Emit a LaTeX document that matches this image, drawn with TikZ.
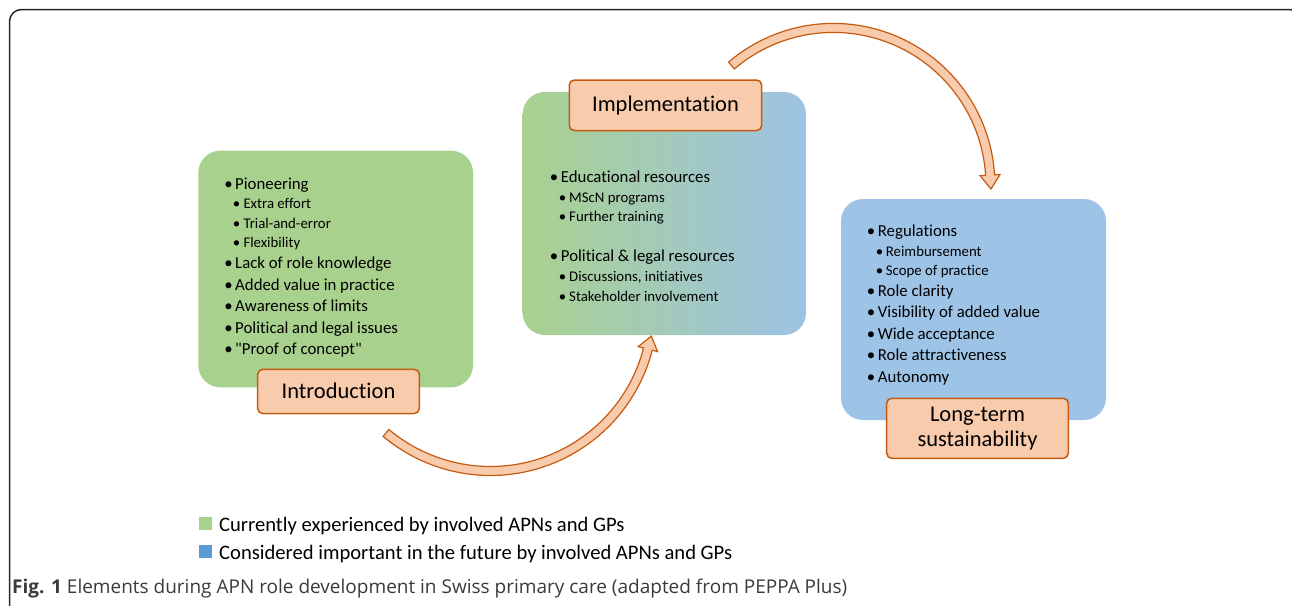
\documentclass[tikz,border=0pt]{standalone}
\usepackage{fontspec}
\setmainfont{Carlito}[Ligatures={TeXOff,NoCommon}]
\newfontfamily\capfont{Open Sans}
\usetikzlibrary{calc}
\definecolor{grn}{HTML}{A9D18E}
\definecolor{blu}{HTML}{9DC3E6}
\definecolor{org}{HTML}{F8CBAD}
\definecolor{orgd}{HTML}{C55A11}
\definecolor{legg}{HTML}{A9D18E}
\definecolor{legb}{HTML}{5B9BD5}
\definecolor{captxt}{HTML}{3A3A3A}
\newcommand\MItem[5]{\node[itm,anchor=base] (#1b) at (#2,#4) {•}; \node[itm] (#1) at (#3,#4) {#5};}
\newcommand\SItem[5]{\node[sitm,anchor=base] (#1b) at (#2,#4) {•}; \node[sitm] (#1) at (#3,#4) {#5};}
\begin{document}
\begin{tikzpicture}[x=1pt,y=-1pt,
  itm/.style={anchor=base west,inner sep=0pt,font=\fontsize{16.8}{19}\selectfont},
  sitm/.style={anchor=base west,inner sep=0pt,font=\fontsize{14.8}{17}\selectfont},
  lab/.style={draw=orgd,fill=org,line width=1.5pt,rounded corners=5pt},
  labtxt/.style={inner sep=0pt,anchor=base,font=\fontsize{22.5}{25}\selectfont,align=center},
  blockarrow/.style={draw=orgd,fill=org,line width=1.2pt,line join=miter},
  legtxt/.style={anchor=base west,inner sep=0pt,font=\fontsize{20.6}{23}\selectfont}]
\useasboundingbox (0,0) rectangle (1292,605);
% frame
\draw[line width=1.5pt,black!85,rounded corners=12pt] (9.5,620) -- (9.5,9.5) -- (1302,9.5) -- (1302,620);
% boxes
\fill[grn,rounded corners=22pt] (198.3,150.7) rectangle (473,387.3);
\shade[left color=grn,right color=blu,rounded corners=22pt] (522.7,92) rectangle (806,335);
\fill[blu,rounded corners=22pt] (841,199) rectangle (1106,420);
% arrow 1 (Introduction -> Implementation)
\filldraw[blockarrow] plot[domain=130:14.5,samples=60] ({490.5+167.1*cos(\x)},{308.4+167.1*sin(\x)})
  -- ({490.5+172.6*cos(14.5)},{308.4+172.6*sin(14.5)})
  -- ({490.5+162.6*cos(14.5)+13.5*cos(-75.5)},{308.4+162.6*sin(14.5)+13.5*sin(-75.5)})
  -- ({490.5+152.6*cos(14.5)},{308.4+152.6*sin(14.5)})
  -- plot[domain=14.5:130,samples=60] ({490.5+158.1*cos(\x)},{308.4+158.1*sin(\x)})
  -- cycle;
% arrow 2 (Implementation -> Long-term)
\filldraw[blockarrow] plot[domain=-130.5:-3.6,samples=60] ({833.4+161.5*cos(\x)},{184.9+161.5*sin(\x)})
  -- ({833.4+167*cos(-3.6)},{184.9+167*sin(-3.6)})
  -- ({833.4+157*cos(-3.6)+14*cos(86.4)},{184.9+157*sin(-3.6)+14*sin(86.4)})
  -- ({833.4+147*cos(-3.6)},{184.9+147*sin(-3.6)})
  -- plot[domain=-3.6:-130.5,samples=60] ({833.4+152.5*cos(\x)},{184.9+152.5*sin(\x)})
  -- cycle;
% Introduction items
\MItem{i1}{228.5}{235}{189}{Pioneering}
\SItem{i2}{236.5}{243.3}{208.5}{Extra effort}
\SItem{i3}{236.5}{243.3}{228}{Trial-and-error}
\SItem{i4}{236.5}{243.3}{247.5}{Flexibility}
\MItem{i5}{228.5}{235}{268.5}{Lack of role knowledge}
\MItem{i6}{228.5}{235}{290}{Added value in practice}
\MItem{i7}{228.5}{235}{311.5}{Awareness of limits}
\MItem{i8}{228.5}{235}{333}{Political and legal issues}
\MItem{i9}{228.5}{235}{354.5}{"Proof of concept"}
% Implementation items
\MItem{m1}{554}{560.7}{182.3}{Educational resources}
\SItem{m2}{562.5}{569}{202}{MScN programs}
\SItem{m3}{562.5}{569}{221.7}{Further training}
\MItem{m4}{554}{560.7}{261.7}{Political \& legal resources}
\SItem{m5}{562.5}{569}{281.7}{Discussions, initiatives}
\SItem{m6}{562.5}{569}{301}{Stakeholder involvement}
% Long-term items
\MItem{l1}{871}{877.7}{236}{Regulations}
\SItem{l2}{879.5}{885.7}{256}{Reimbursement}
\SItem{l3}{879.5}{885.7}{275.3}{Scope of practice}
\MItem{l4}{871}{877.7}{296}{Role clarity}
\MItem{l5}{871}{877.7}{317.7}{Visibility of added value}
\MItem{l6}{871}{877.7}{339.3}{Wide acceptance}
\MItem{l7}{871}{877.7}{360.7}{Role attractiveness}
\MItem{l8}{871}{877.7}{382.7}{Autonomy}
% labels
\draw[lab] (257.7,369.3) rectangle (419.3,413.5);
\node[labtxt] (intro) at (338.5,398.3) {Introduction};
\draw[lab] (569.3,80) rectangle (761.7,130.5);
\node[labtxt] (impl) at (665.5,111.7) {Implementation};
\draw[lab] (886.7,398.3) rectangle (1068.3,458.3);
\node[labtxt] (lt1) at (977.5,421.7) {Long-term};
\node[labtxt] (lt2) at (977.5,446.7) {sustainability};
% legend
\fill[legg] (199,517) rectangle (211.5,530);
\node[legtxt] (leg1) at (219,531.7) {Currently experienced by involved APNs and GPs};
\fill[legb] (199,545) rectangle (211.5,558);
\node[legtxt] (leg2) at (219,559) {Considered important in the future by involved APNs and GPs};
% caption
\node[anchor=base west,inner sep=0pt,text=captxt,font=\capfont\fontsize{19}{22}\selectfont] (cap) at (12,593) {\textbf{Fig. 1} Elements during APN role development in Swiss primary care (adapted from PEPPA Plus)};
\end{tikzpicture}
\end{document}
